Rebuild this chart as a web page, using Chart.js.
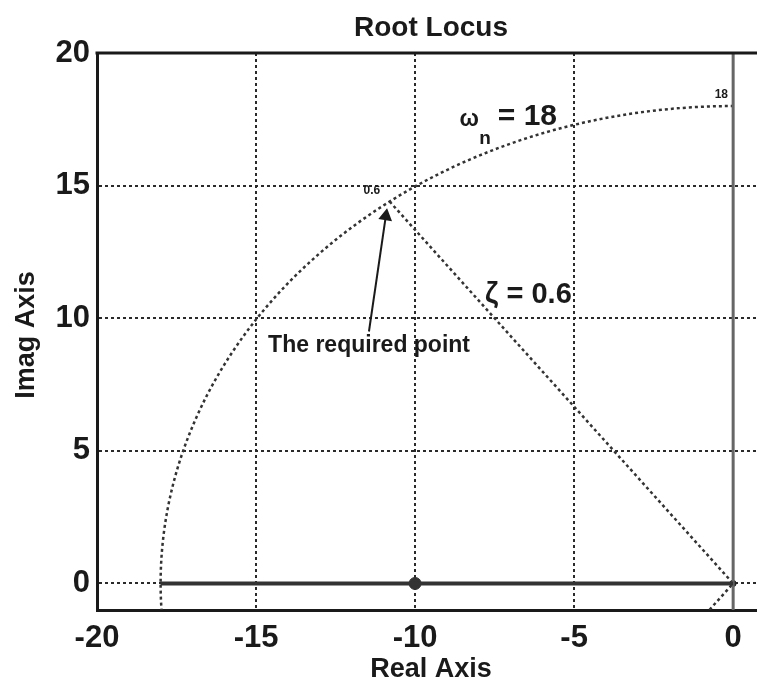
<!DOCTYPE html>
<html>
<head>
<meta charset="utf-8">
<script src="https://cdn.jsdelivr.net/npm/chart.js@4"></script>
<style>
  html, body { margin: 0; padding: 0; background: #fff; overflow: hidden; }
  #wrap { width: 757px; height: 689px; }
</style>
</head>
<body>
<div id="wrap"><canvas id="locus"></canvas></div>
<script>
// ===== Data =====
const xTicks = [-20, -15, -10, -5, 0];
const yTicks = [0, 5, 10, 15, 20];
const xRange = [-20, 0.75];
const yRange = [-1, 20];

// root locus branches
const realLocusX = [-18, 0];
const realLocusY = [0, 0];
const imagLocusX = [0, 0];
const imagLocusY = [-1, 20];

// zeta = 0.6 line (upper and mirrored lower half)
const zeta = 0.6;
const wn = 18;
const zetaLineX = [-10.8, 0, -10.8];
const zetaLineY = [14.4, 0, -14.4];

// open loop zero / pole
const zeroX = [-10];
const zeroY = [0];
const poleX = [0];
const poleY = [0];

// arrow to required point
const arrowX = [-11.45, -10.92];
const arrowY = [9.5, 13.85];

const FONT = '"Liberation Sans", Arial, sans-serif';
const INK = '#1a1a1a';

const pts = (xs, ys) => xs.map((x, i) => ({ x, y: ys[i] }));

// text notes placed in data coords
const notes = [
  { text: 'The required point', x: -14.62, y: 8.98, size: 23 },
  { text: 'ζ = 0.6', x: -7.8, y: 10.87, size: 29 },
  { text: 'ω', x: -8.6, y: 17.5, size: 23 },
  { text: 'n', x: -7.98, y: 16.75, size: 19 },
  { text: '= 18', x: -7.4, y: 17.6, size: 30 },
  { text: '0.6', x: -11.62, y: 14.8, size: 12 },
  { text: '18', x: -0.58, y: 18.42, size: 12 },
];

const overlay = {
  id: 'overlay',
  beforeDatasetsDraw(chart) {
    const { ctx, chartArea: a, scales: { x, y } } = chart;
    // wn circle
    ctx.save();
    ctx.beginPath();
    ctx.rect(a.left, a.top, a.right - a.left, a.bottom - a.top);
    ctx.clip();
    const cx = x.getPixelForValue(0), cy = y.getPixelForValue(0);
    const rx = cx - x.getPixelForValue(-wn);
    const ry = cy - y.getPixelForValue(wn);
    ctx.beginPath();
    ctx.ellipse(cx, cy, rx, ry, 0, Math.PI / 2, Math.PI * 1.5);
    ctx.setLineDash([3, 3]);
    ctx.lineWidth = 2.5;
    ctx.strokeStyle = '#333';
    ctx.stroke();
    ctx.restore();
  },
  afterDraw(chart) {
    const { ctx, chartArea: a, scales: { x, y } } = chart;
    ctx.save();
    // solid top frame
    ctx.strokeStyle = INK;
    ctx.lineWidth = 3;
    ctx.beginPath();
    ctx.moveTo(a.left - 1.5, a.top);
    ctx.lineTo(a.right, a.top);
    ctx.stroke();

    ctx.fillStyle = INK;
    ctx.textBaseline = 'middle';
    ctx.textAlign = 'left';
    notes.forEach(n => {
      ctx.font = `bold ${n.size}px ${FONT}`;
      ctx.fillText(n.text, x.getPixelForValue(n.x), y.getPixelForValue(n.y));
    });

    // titles
    ctx.textAlign = 'center';
    ctx.font = `bold 28px ${FONT}`;
    ctx.fillText('Root Locus', 431, 28);
    ctx.font = `bold 27px ${FONT}`;
    ctx.fillText('Real Axis', 431, 670);
    ctx.translate(27, 335);
    ctx.rotate(-Math.PI / 2);
    ctx.fillText('Imag Axis', 0, 0);
    ctx.restore();
  }
};

const axisCommon = {
  type: 'linear',
  grid: { color: '#2a2a2a', lineWidth: 2, drawTicks: false },
  border: { display: true, color: INK, width: 3, dash: [3, 3] },
  ticks: { color: INK, font: { family: FONT, size: 31, weight: 'bold' } },
};

new Chart(document.getElementById('locus'), {
  type: 'scatter',
  data: {
    datasets: [
      { data: pts(realLocusX, realLocusY), showLine: true, borderColor: '#333', borderWidth: 4, pointRadius: 0 },
      { data: pts(imagLocusX, imagLocusY), showLine: true, borderColor: '#666', borderWidth: 3, pointRadius: 0 },
      { data: pts(zetaLineX, zetaLineY), showLine: true, borderColor: '#333', borderWidth: 2.5, borderDash: [3, 3], pointRadius: 0 },
      { data: pts(zeroX, zeroY), pointRadius: 6, backgroundColor: '#333', borderColor: '#333' },
      { data: pts(poleX, poleY), pointRadius: 3, backgroundColor: '#222', borderColor: '#222' },
      {
        data: pts(arrowX, arrowY), showLine: true, borderColor: INK, borderWidth: 2,
        pointRadius: [0, 6], pointStyle: 'triangle', pointRotation: 9,
        backgroundColor: INK, pointBorderColor: INK
      },
    ]
  },
  options: {
    responsive: true,
    maintainAspectRatio: false,
    animation: false,
    layout: { autoPadding: false, padding: { top: 53, right: 0, left: 0, bottom: 0 } },
    plugins: { legend: { display: false }, tooltip: { enabled: false } },
    scales: {
      x: {
        ...axisCommon,
        min: xRange[0], max: xRange[1],
        ticks: { ...axisCommon.ticks, padding: 10 },
        afterBuildTicks: s => { s.ticks = xTicks.map(v => ({ value: v })); },
        afterFit: s => { s.height = 79; s.paddingRight = 0; s.paddingLeft = 0; },
      },
      y: {
        ...axisCommon,
        min: yRange[0], max: yRange[1],
        ticks: { ...axisCommon.ticks, padding: 7 },
        afterBuildTicks: s => { s.ticks = yTicks.map(v => ({ value: v })); },
        afterFit: s => { s.width = 97; s.paddingTop = 0; s.paddingBottom = 0; },
      }
    }
  },
  plugins: [overlay]
});
</script>
</body>
</html>
